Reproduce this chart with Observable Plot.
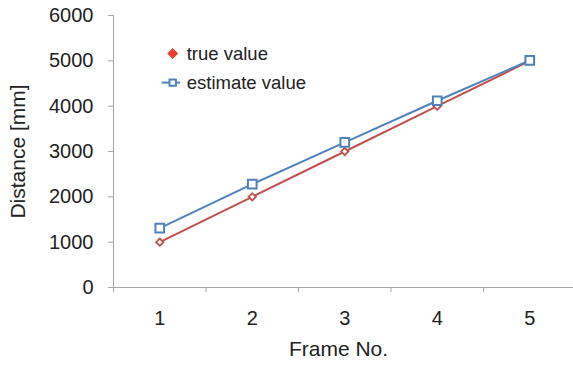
<!DOCTYPE html>
<html>
<head>
<meta charset="utf-8">
<script src="https://cdn.jsdelivr.net/npm/d3@7"></script>
<script src="https://cdn.jsdelivr.net/npm/@observablehq/plot@0.6"></script>
<style>
  html, body { margin: 0; padding: 0; background: #fff; }
  #chart svg { display: block; }
</style>
</head>
<body>
<div id="chart"></div>
<script>
// Frame numbers on the x axis
const frames = [1, 2, 3, 4, 5];
// Measured distances per frame, in millimetres
const trueValue = [1000, 2000, 3000, 4000, 5000];
const estimateValue = [1310, 2280, 3200, 4120, 5010];
// Axis tick values
const yTicks = [0, 1000, 2000, 3000, 4000, 5000, 6000];
const xBoundaries = [0.5, 1.5, 2.5, 3.5, 4.5, 5.5];
// Legend entries
const seriesNames = ["true value", "estimate value"];

const RED = "#c0504d";
const BLUE = "#4f81bd";
const AXIS = "#a6a6a6";
const FONT = "'Liberation Sans', Arial, sans-serif";

const trueRows = frames.map((f, i) => ({frame: f, value: trueValue[i]}));
const estRows = frames.map((f, i) => ({frame: f, value: estimateValue[i]}));

// Legend rows sit in the upper-left of the plot area (data coordinates)
const legendRows = [
  {name: seriesNames[0], x: 1.14, x1: 1.02, x2: 1.22, y: 5160},
  {name: seriesNames[1], x: 1.14, x1: 1.02, x2: 1.22, y: 4520}
];

const chart = Plot.plot({
  width: 573,
  height: 368,
  marginLeft: 113,
  marginRight: 0,
  marginTop: 15,
  marginBottom: 81,
  style: {fontFamily: FONT, color: "#222", background: "#fff"},
  x: {type: "linear", domain: [0.5, 5.5], range: [113, 575.5]},
  y: {type: "linear", domain: [0, 6000]},
  marks: [
    // axis lines
    Plot.ruleY([0], {stroke: AXIS, strokeWidth: 1}),
    Plot.ruleX([0.5], {stroke: AXIS, strokeWidth: 1}),
    // y axis ticks and labels
    Plot.axisY({ticks: yTicks, tickSize: 5, tickPadding: 15, stroke: AXIS,
      tickFormat: d3.format("d"), fontSize: 20, fill: "#222", label: null}),
    // x axis: ticks between categories, labels at category centres
    Plot.axisX({ticks: xBoundaries, tickSize: 5, tickFormat: () => "", stroke: AXIS, label: null}),
    Plot.axisX({ticks: frames, tickSize: 0, tickPadding: 23, tickFormat: d3.format("d"),
      fontSize: 20, fill: "#222", label: null}),
    // axis titles
    Plot.text(["Distance [mm]"], {frameAnchor: "left", dx: -95, rotate: -90,
      fontSize: 21, fill: "#222", textAnchor: "middle"}),
    Plot.text(["Frame No."], {frameAnchor: "bottom", dx: -5, dy: 68,
      fontSize: 21, fill: "#222", textAnchor: "middle"}),
    // series
    Plot.line(trueRows, {x: "frame", y: "value", stroke: RED, strokeWidth: 2}),
    Plot.dot(trueRows, {x: "frame", y: "value", symbol: "square", rotate: 45, r: 2.9,
      fill: "white", stroke: RED, strokeWidth: 1.8}),
    Plot.line(estRows, {x: "frame", y: "value", stroke: BLUE, strokeWidth: 2}),
    Plot.dot(estRows, {x: "frame", y: "value", symbol: "square", r: 4.9,
      fill: "white", stroke: BLUE, strokeWidth: 2}),
    // legend
    Plot.dot(legendRows.slice(0, 1), {x: "x", y: "y", symbol: "square", rotate: 45, r: 3.8,
      fill: "#e8402a", stroke: "#e8402a", strokeWidth: 1}),
    Plot.link(legendRows.slice(1), {x1: "x1", x2: "x2", y1: "y", y2: "y",
      stroke: BLUE, strokeWidth: 2}),
    Plot.dot(legendRows.slice(1), {x: "x", y: "y", symbol: "square", r: 3.6,
      fill: "white", stroke: BLUE, strokeWidth: 2}),
    Plot.text(legendRows, {x: "x", y: "y", text: "name", dx: 14, textAnchor: "start",
      fontSize: 18.5, fill: "#222"})
  ]
});

document.getElementById("chart").appendChild(chart);
</script>
</body>
</html>
